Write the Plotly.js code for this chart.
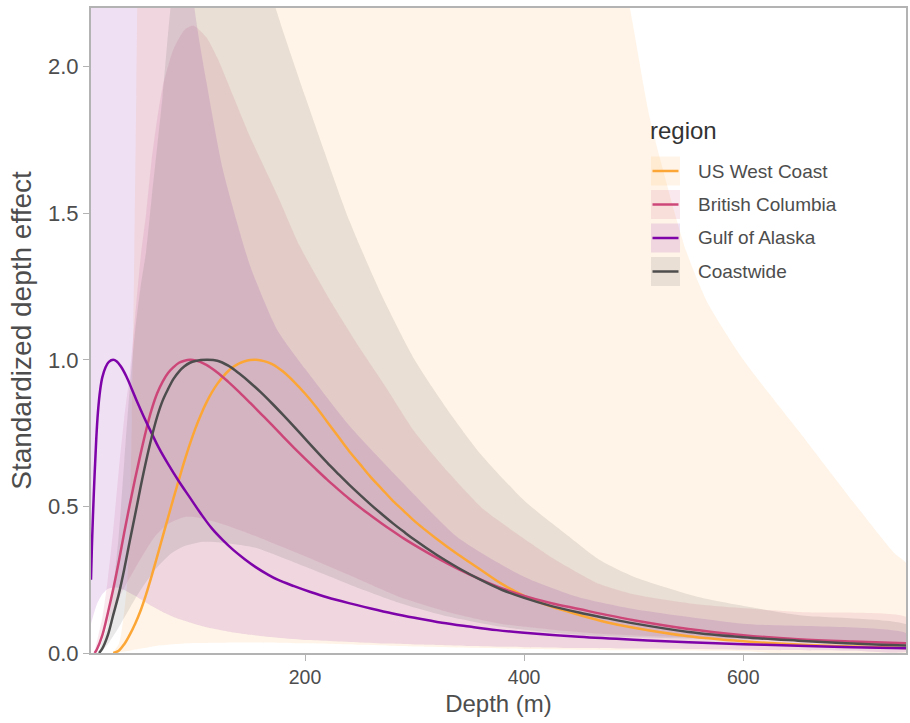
<!DOCTYPE html>
<html>
<head>
<meta charset="utf-8">
<script src="https://cdn.plot.ly/plotly-3.0.1.min.js"></script>
<style>html,body{margin:0;padding:0;background:#fff;}#chart{width:910px;height:723px;}</style>
</head>
<body>
<div id="chart"></div>
<script>
// ---------- series (mean curves) ----------
const regions = ['US West Coast', 'British Columbia', 'Gulf of Alaska', 'Coastwide'];

const uswcDepth = [25, 30, 35, 40, 45, 50, 55, 60, 65, 70, 75, 80, 85, 90, 95, 100, 105, 110, 115, 120, 125, 130, 135, 140, 145, 150, 155, 160, 165, 170, 175, 180, 190, 200, 210, 220, 230, 240, 250, 260, 270, 280, 290, 300, 320, 340, 360, 380, 400, 425, 450, 475, 500, 550, 600, 650, 700, 750];
const uswcEffect = [0, 0.008, 0.03, 0.062, 0.1, 0.145, 0.2, 0.262, 0.328, 0.395, 0.462, 0.528, 0.592, 0.655, 0.713, 0.766, 0.813, 0.854, 0.889, 0.918, 0.942, 0.962, 0.977, 0.988, 0.995, 0.999, 1.0, 0.998, 0.993, 0.985, 0.974, 0.96, 0.925, 0.885, 0.84, 0.79, 0.74, 0.69, 0.645, 0.6, 0.56, 0.52, 0.485, 0.45, 0.39, 0.335, 0.285, 0.235, 0.195, 0.158, 0.13, 0.105, 0.086, 0.057, 0.04, 0.029, 0.022, 0.017];

const bcDepth = [8, 10, 15, 20, 25, 30, 35, 40, 45, 50, 55, 60, 65, 70, 75, 80, 85, 90, 95, 100, 110, 120, 130, 140, 150, 160, 170, 180, 190, 200, 210, 220, 230, 240, 250, 260, 270, 280, 290, 300, 320, 340, 360, 380, 400, 425, 450, 475, 500, 550, 600, 650, 700, 750];
const bcEffect = [0, 0.012, 0.06, 0.135, 0.218, 0.31, 0.41, 0.505, 0.595, 0.68, 0.76, 0.83, 0.885, 0.925, 0.955, 0.975, 0.99, 0.997, 1.0, 0.998, 0.983, 0.957, 0.925, 0.89, 0.853, 0.815, 0.777, 0.738, 0.7, 0.663, 0.627, 0.592, 0.559, 0.527, 0.497, 0.469, 0.442, 0.416, 0.391, 0.368, 0.325, 0.286, 0.251, 0.22, 0.195, 0.17, 0.15, 0.13, 0.112, 0.082, 0.061, 0.047, 0.039, 0.033];

const goaDepth = [4.7, 5.5, 6.5, 8, 9.5, 11, 13, 15, 18, 21, 25, 28, 32, 37, 42, 47, 53, 60, 67, 75, 85, 95, 105, 115, 125, 135, 145, 155, 165, 175, 190, 205, 220, 240, 260, 280, 300, 325, 350, 375, 400, 450, 500, 550, 600, 650, 700, 750];
const goaEffect = [0.25, 0.36, 0.47, 0.61, 0.73, 0.82, 0.895, 0.94, 0.975, 0.993, 1.0, 0.995, 0.977, 0.943, 0.9, 0.855, 0.805, 0.75, 0.697, 0.645, 0.585, 0.53, 0.475, 0.425, 0.385, 0.35, 0.32, 0.293, 0.27, 0.25, 0.228, 0.208, 0.19, 0.17, 0.152, 0.135, 0.12, 0.103, 0.09, 0.078, 0.069, 0.055, 0.045, 0.037, 0.03, 0.025, 0.02, 0.016];

const cwDepth = [12, 15, 20, 25, 30, 35, 40, 45, 50, 55, 60, 65, 70, 75, 80, 85, 90, 95, 100, 110, 120, 130, 140, 150, 160, 170, 180, 190, 200, 210, 220, 230, 240, 250, 260, 270, 280, 290, 300, 320, 340, 360, 380, 400, 425, 450, 475, 500, 550, 600, 650, 700, 750];
const cwEffect = [0, 0.015, 0.06, 0.13, 0.2, 0.285, 0.38, 0.472, 0.567, 0.655, 0.735, 0.805, 0.86, 0.9, 0.935, 0.96, 0.978, 0.99, 0.996, 1.0, 0.997, 0.98, 0.953, 0.922, 0.888, 0.851, 0.812, 0.772, 0.731, 0.69, 0.65, 0.612, 0.575, 0.54, 0.506, 0.474, 0.443, 0.414, 0.386, 0.335, 0.29, 0.25, 0.215, 0.188, 0.16, 0.138, 0.119, 0.101, 0.072, 0.054, 0.042, 0.032, 0.025];

// ---------- ribbons (lower / upper bounds) ----------
const uswcLowDepth = [25, 30, 40, 50, 65, 80, 100, 150, 200, 250, 300, 400, 500, 600, 750];
const uswcLow = [0, 0.003, 0.008, 0.015, 0.025, 0.03, 0.034, 0.036, 0.033, 0.028, 0.022, 0.014, 0.009, 0.006, 0.003];
const uswcHighDepth = [25, 30, 32, 35, 38, 40, 42, 44, 46, 48, 50, 60, 100, 200, 300, 400, 450, 480, 497, 515, 548, 568, 600, 650, 700, 738, 750];
const uswcHigh = [0, 0.03, 0.06, 0.14, 0.25, 0.45, 0.8, 1.3, 1.9, 2.6, 3.3, 5, 8, 8, 6, 4, 3, 2.5, 2.19, 1.82, 1.37, 1.19, 1.0, 0.76, 0.517, 0.34, 0.3];

const bcLowDepth = [8, 11, 20, 32, 47.5, 62.7, 75, 90, 100, 123.6, 154, 200, 250, 287, 330, 378, 430, 469, 560, 650, 750];
const bcLow = [0, 0.02, 0.1, 0.2, 0.305, 0.396, 0.44, 0.464, 0.463, 0.441, 0.40, 0.33, 0.25, 0.19, 0.14, 0.1, 0.078, 0.066, 0.052, 0.046, 0.042];
const bcHighDepth = [8, 15, 20, 25, 30, 35, 40, 45, 50, 55, 60, 65, 70, 80, 90, 98, 110, 120, 134.5, 150, 175, 195, 225, 250, 275, 300, 330, 363, 400, 430, 469, 500, 560, 650, 750];
const bcHigh = [0, 0.12, 0.25, 0.42, 0.62, 0.8, 0.95, 1.15, 1.35, 1.5, 1.68, 1.82, 1.93, 2.06, 2.125, 2.14, 2.1, 2.03, 1.9, 1.76, 1.56, 1.39, 1.19, 1.04, 0.9, 0.755, 0.62, 0.49, 0.39, 0.315, 0.235, 0.2, 0.165, 0.14, 0.12];

const goaLowDepth = [4.7, 10, 15, 20, 25, 30, 35, 40, 45, 50, 60, 70, 80, 90, 100, 110, 123.6, 135, 150, 175, 202.7, 225, 250, 275, 300, 350, 400, 450, 500, 600, 700, 750];
const goaLow = [0.1, 0.165, 0.2, 0.218, 0.223, 0.222, 0.215, 0.205, 0.195, 0.183, 0.16, 0.14, 0.123, 0.11, 0.098, 0.088, 0.078, 0.07, 0.062, 0.052, 0.044, 0.04, 0.036, 0.032, 0.029, 0.024, 0.02, 0.017, 0.015, 0.011, 0.008, 0.007];
const goaHighDepth = [4.7, 40, 80, 99.5, 110, 125, 150, 175, 200, 241, 290, 339, 400, 450, 500, 600, 750];
const goaHigh = [8, 6, 3, 2.19, 1.95, 1.65, 1.32, 1.1, 0.97, 0.773, 0.578, 0.396, 0.26, 0.19, 0.15, 0.1, 0.065];

const cwLowDepth = [12, 20, 32, 47.5, 62.7, 78, 90, 105, 120, 154, 200, 250, 287, 330, 378, 430, 469, 560, 650, 750];
const cwLow = [0, 0.03, 0.1, 0.2, 0.282, 0.34, 0.365, 0.379, 0.378, 0.36, 0.295, 0.22, 0.17, 0.125, 0.09, 0.068, 0.058, 0.048, 0.043, 0.04];
const cwHighDepth = [12, 20, 25, 30, 35, 40, 45, 50, 55, 60, 70, 77, 90, 110, 130, 150, 174, 200, 241, 270, 300, 330, 360, 400, 440, 469.4, 500, 560, 650, 750];
const cwHigh = [0, 0.1, 0.22, 0.4, 0.65, 0.9, 1.1, 1.25, 1.37, 1.55, 1.9, 2.19, 2.6, 2.9, 2.8, 2.5, 2.19, 1.9, 1.47, 1.22, 1.0, 0.83, 0.68, 0.52, 0.4, 0.316, 0.26, 0.19, 0.13, 0.095];

const xTicks = [200, 400, 600];
const yTicks = [0, 0.5, 1.0, 1.5, 2.0];

// ---------- styling ----------
const lineColors = ['#FCA636', '#CC4778', '#7E03A8', '#4D4D4D'];
const fillAlpha = 0.12;
function rgba(hex, a) {
  const r = parseInt(hex.slice(1,3),16), g = parseInt(hex.slice(3,5),16), b = parseInt(hex.slice(5,7),16);
  return 'rgba(' + r + ',' + g + ',' + b + ',' + a + ')';
}
const FONT = 'Liberation Sans, Arial, Helvetica, sans-serif';

const ribbons = [
  [uswcLowDepth, uswcLow, uswcHighDepth, uswcHigh],
  [bcLowDepth, bcLow, bcHighDepth, bcHigh],
  [goaLowDepth, goaLow, goaHighDepth, goaHigh],
  [cwLowDepth, cwLow, cwHighDepth, cwHigh]
];
const means = [
  [uswcDepth, uswcEffect],
  [bcDepth, bcEffect],
  [goaDepth, goaEffect],
  [cwDepth, cwEffect]
];

const traces = [];
ribbons.forEach((rb, i) => {
  traces.push({
    type: 'scatter', mode: 'lines',
    x: rb[0].concat(rb[2].slice().reverse()),
    y: rb[1].concat(rb[3].slice().reverse()),
    fill: 'toself', fillcolor: rgba(lineColors[i], fillAlpha),
    line: {width: 0, color: 'rgba(0,0,0,0)', shape: 'spline', smoothing: 0.6},
    hoverinfo: 'skip', showlegend: false, name: regions[i]
  });
});
means.forEach((m, i) => {
  traces.push({
    type: 'scatter', mode: 'lines',
    x: m[0], y: m[1], name: regions[i],
    line: {color: lineColors[i], width: 2.5, shape: 'spline', smoothing: 1},
    showlegend: false
  });
});

// ---------- manual legend (ggplot style) ----------
const L = 91, R = 906, T = 8, B = 653;
const px = v => (v - L) / (R - L);
const py = v => (B - v) / (B - T);
const shapes = [], annotations = [];
annotations.push({xref: 'paper', yref: 'paper', x: px(648), y: py(130), xanchor: 'left', yanchor: 'middle',
  text: 'region', showarrow: false, font: {family: FONT, size: 24, color: '#333333'}});
regions.forEach((name, i) => {
  const cy = 171 + i * 33.5;
  shapes.push({type: 'rect', xref: 'paper', yref: 'paper', x0: px(651), x1: px(680), y0: py(cy + 14.5), y1: py(cy - 14.5),
    fillcolor: rgba(lineColors[i], fillAlpha), line: {width: 0}, layer: 'above'});
  shapes.push({type: 'line', xref: 'paper', yref: 'paper', x0: px(652.5), x1: px(678.5), y0: py(cy), y1: py(cy),
    line: {color: lineColors[i], width: 2.5}, layer: 'above'});
  annotations.push({xref: 'paper', yref: 'paper', x: px(696), y: py(cy), xanchor: 'left', yanchor: 'middle',
    text: name, showarrow: false, font: {family: FONT, size: 19, color: '#4D4D4D'}});
});

const layout = {
  width: 910, height: 723,
  margin: {l: L, r: 910 - R, t: T, b: 723 - B},
  paper_bgcolor: '#ffffff', plot_bgcolor: '#ffffff',
  showlegend: false,
  font: {family: FONT, color: '#4D4D4D'},
  xaxis: {
    range: [4.7, 748.5], tickvals: xTicks, ticktext: xTicks.map(String),
    showgrid: false, zeroline: false,
    showline: true, mirror: true, linecolor: '#B3B3B3', linewidth: 2,
    ticks: 'outside', ticklen: 6, tickwidth: 1, tickcolor: '#B3B3B3',
    tickfont: {family: FONT, size: 19.5, color: '#4D4D4D'},
    title: {text: 'Depth (m)', font: {family: FONT, size: 24, color: '#4D4D4D'}, standoff: 8}
  },
  yaxis: {
    range: [0, 2.2], tickvals: yTicks, ticktext: yTicks.map(v => v.toFixed(1)),
    showgrid: false, zeroline: false,
    showline: true, mirror: true, linecolor: '#B3B3B3', linewidth: 2,
    ticks: 'outside', ticklen: 6, tickwidth: 1, tickcolor: '#B3B3B3',
    tickfont: {family: FONT, size: 22, color: '#4D4D4D'},
    title: {text: 'Standardized depth effect', font: {family: FONT, size: 28, color: '#4D4D4D'}, standoff: 8}
  },
  shapes: shapes,
  annotations: annotations
};

Plotly.newPlot('chart', traces, layout, {displayModeBar: false, staticPlot: true});
</script>
</body>
</html>
